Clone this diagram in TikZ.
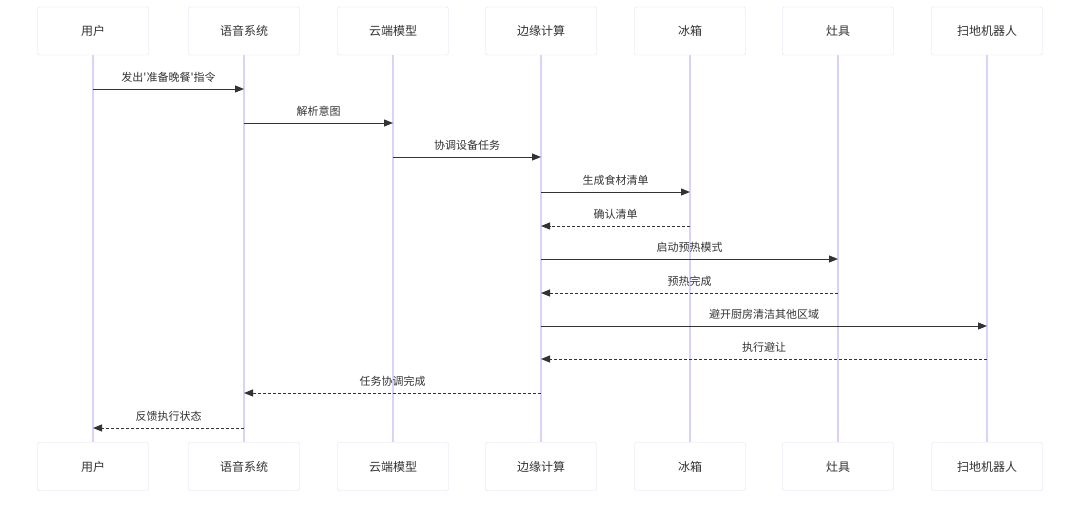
\documentclass[tikz,border=0pt]{standalone}
\usepackage{fontspec}
\setmainfont{Noto Sans CJK SC}
\usetikzlibrary{arrows.meta}

\definecolor{lilac}{RGB}{218,210,250}
\definecolor{boxline}{RGB}{226,220,250}
\definecolor{ink}{RGB}{51,51,51}

\tikzset{
  actor/.style={draw=boxline, fill=white, rounded corners=2pt, minimum width=111pt, minimum height=48pt, font=\fontsize{12}{14}\selectfont, text=ink},
  life/.style={draw=lilac, line width=1.2pt},
  call/.style={draw=ink, line width=1pt, -{Triangle[length=9pt,width=7pt]}},
  reply/.style={call, dash pattern=on 3pt off 2pt},
  msgtext/.style={font=\fontsize{11}{13}\selectfont, text=ink, above=3pt}
}

\begin{document}
\begin{tikzpicture}[x=1pt, y=-1pt]
    \useasboundingbox (0,0) rectangle (1080,507);
    % participants, top and bottom
    \foreach \i/\x/\name in {1/93/用户, 2/244/语音系统, 3/393/云端模型, 4/541/边缘计算, 5/690/冰箱, 6/838/灶具, 7/987/扫地机器人} {
        \node[actor] (top\i) at (\x,31) {\name};
        \node[actor] (bot\i) at (\x,466.5) {\name};
        \draw[life] (top\i) -- (bot\i);
    }
    % messages
    \foreach \a/\b/\y/\txt/\kind in {1/2/89/发出\textquotesingle 准备晚餐\textquotesingle 指令/call, 2/3/123/解析意图/call, 3/4/157/协调设备任务/call,
        4/5/192/生成食材清单/call, 5/4/226/确认清单/reply, 4/6/259/启动预热模式/call, 6/4/293/预热完成/reply,
        4/7/326/避开厨房清洁其他区域/call, 7/4/359/执行避让/reply, 4/2/393/任务协调完成/reply, 2/1/428/反馈执行状态/reply} {
        \coordinate (from) at (top\a |- 0,\y);
        \coordinate (to) at (top\b |- 0,\y);
        \draw[\kind] (from) -- (to) node[midway, msgtext] {\txt};
    }
\end{tikzpicture}
\end{document}
